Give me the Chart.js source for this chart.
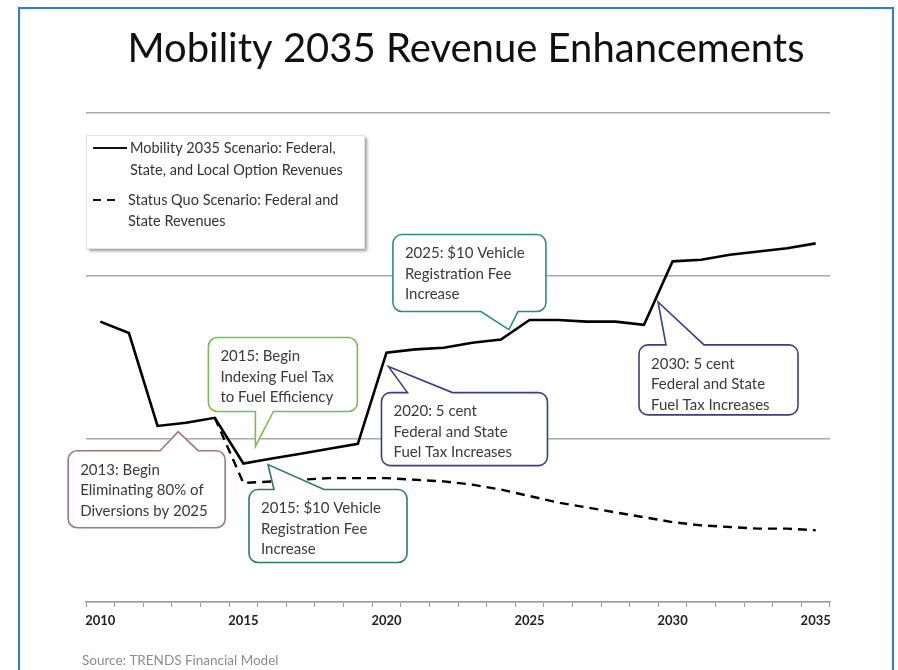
<!DOCTYPE html>
<html>
<head>
<meta charset="utf-8">
<script src="https://cdn.jsdelivr.net/npm/chart.js@4.4.1/dist/chart.umd.min.js"></script>
<style>
  html, body { margin: 0; padding: 0; background: #fff; }
  #wrap { position: relative; width: 898px; height: 670px; overflow: hidden; }
  #frame { position: absolute; left: 18px; top: 7px; width: 876px; height: 720px;
           border: 2px solid #2a7ed6; box-sizing: border-box; pointer-events: none; }
  canvas { position: absolute; left: 0; top: 0; }
</style>
</head>
<body>
<div id="wrap">
  <canvas id="chart" width="898" height="670"></canvas>
  <div id="frame"></div>
</div>
<script>
// Years on the horizontal axis
const years = ['2010','2011','2012','2013','2014','2015','2016','2017','2018','2019',
               '2020','2021','2022','2023','2024','2025','2026','2027','2028','2029',
               '2030','2031','2032','2033','2034','2035'];
// Only these years carry a printed label
const tickLabels = ['2010','2015','2020','2025','2030','2035'];

// Revenue, Mobility 2035 scenario (federal, state and local option)
const mobility2035 = [1.72, 1.65, 1.08, 1.10, 1.13, 0.85, 0.88, 0.91, 0.94, 0.97,
                      1.53, 1.55, 1.56, 1.59, 1.61, 1.73, 1.73, 1.72, 1.72, 1.70,
                      2.09, 2.10, 2.13, 2.15, 2.17, 2.20];
// Revenue, status quo scenario (federal and state)
const statusQuo = [null, null, null, null, 1.13, 0.73, 0.74, 0.75, 0.76, 0.76,
                   0.76, 0.75, 0.74, 0.72, 0.69, 0.65, 0.61, 0.58, 0.55, 0.52,
                   0.49, 0.47, 0.46, 0.45, 0.45, 0.44];

const seriesNames = [
  ['Mobility 2035 Scenario: Federal,', 'State, and Local Option Revenues'],
  ['Status Quo Scenario: Federal and', 'State Revenues']
];

const titleText = 'Mobility 2035 Revenue Enhancements';
const sourceText = 'Source: TRENDS Financial Model';

// Callout wording and the year on the Mobility 2035 line each one refers to
const calloutYears = ['2013', '2015', '2016', '2020', '2024', '2029'];
const calloutTexts = [
  ['2013: Begin', 'Eliminating 80% of', 'Diversions by 2025'],
  ['2015: Begin', 'Indexing Fuel Tax', 'to Fuel Efficiency'],
  ['2015: $10 Vehicle', 'Registration Fee', 'Increase'],
  ['2020: 5 cent', 'Federal and State', 'Fuel Tax Increases'],
  ['2025: $10 Vehicle', 'Registration Fee', 'Increase'],
  ['2030: 5 cent', 'Federal and State', 'Fuel Tax Increases']
];
// Callout geometry: tip offset from the point, box relative to tip, tail edge and span
const calloutLayout = [
  { tip: [-8, 9],   box: [-110, 19, 157, 77],  edge: 'top',    tail: [92, 130], color: '#a3777f' },
  { tip: [12, -17], box: [-47, -109, 149, 74], edge: 'bottom', tail: [47, 65],  color: '#7dbb55' },
  { tip: [-4, 6],   box: [-19, 25, 158, 73],   edge: 'top',    tail: [25, 75],  color: '#2e7a5c' },
  { tip: [2, 14],   box: [-7, 26, 166, 73],    edge: 'top',    tail: [26, 71],  color: '#3c3d82' },
  { tip: [8, -10],  box: [-116, -95, 153, 77], edge: 'bottom', tail: [88, 125], color: '#2e8b8a' },
  { tip: [14, -23], box: [-19, 43, 159, 70],   edge: 'top',    tail: [27, 65],  color: '#3c3d82' }
];

const FONT = 'Lato, "Open Sans", sans-serif';

function bubblePath(ctx, bx, by, bw, bh, r, edge, t0, t1, tx, ty) {
  ctx.beginPath();
  ctx.moveTo(bx + r, by);
  if (edge === 'top') { ctx.lineTo(bx + t0, by); ctx.lineTo(tx, ty); ctx.lineTo(bx + t1, by); }
  ctx.lineTo(bx + bw - r, by);
  ctx.arcTo(bx + bw, by, bx + bw, by + r, r);
  ctx.lineTo(bx + bw, by + bh - r);
  ctx.arcTo(bx + bw, by + bh, bx + bw - r, by + bh, r);
  if (edge === 'bottom') { ctx.lineTo(bx + t1, by + bh); ctx.lineTo(tx, ty); ctx.lineTo(bx + t0, by + bh); }
  ctx.lineTo(bx + r, by + bh);
  ctx.arcTo(bx, by + bh, bx, by + bh - r, r);
  ctx.lineTo(bx, by + r);
  ctx.arcTo(bx, by, bx + r, by, r);
  ctx.closePath();
}

// Title, legend box and source note
const decorPlugin = {
  id: 'decor',
  beforeDatasetsDraw(chart) {
    const ctx = chart.ctx;
    ctx.save();
    // legend panel with soft shadow
    ctx.shadowColor = 'rgba(0,0,0,0.4)';
    ctx.shadowBlur = 3;
    ctx.shadowOffsetX = 3;
    ctx.shadowOffsetY = 3;
    ctx.fillStyle = '#fff';
    ctx.fillRect(86, 135, 278, 113);
    ctx.shadowColor = 'transparent';
    ctx.strokeStyle = '#e4e4e4';
    ctx.lineWidth = 1;
    ctx.strokeRect(86.5, 135.5, 278, 113);

    ctx.strokeStyle = '#111';
    ctx.lineWidth = 2;
    ctx.beginPath(); ctx.moveTo(93, 148); ctx.lineTo(127, 148); ctx.stroke();
    ctx.setLineDash([8, 6]);
    ctx.beginPath(); ctx.moveTo(93, 200); ctx.lineTo(121, 200); ctx.stroke();
    ctx.setLineDash([]);

    ctx.fillStyle = '#333';
    ctx.font = '14.5px ' + FONT;
    ctx.textBaseline = 'middle';
    ctx.textAlign = 'left';
    ctx.fillText(seriesNames[0][0], 130, 148);
    ctx.fillText(seriesNames[0][1], 130, 170);
    ctx.fillText(seriesNames[1][0], 128, 200);
    ctx.fillText(seriesNames[1][1], 128, 221);
    ctx.restore();
  },
  afterDraw(chart) {
    const ctx = chart.ctx;
    ctx.save();
    ctx.fillStyle = '#111';
    ctx.font = '40px ' + FONT;
    ctx.textAlign = 'center';
    ctx.textBaseline = 'alphabetic';
    ctx.fillText(titleText, 466, 62);

    ctx.fillStyle = '#8c8c8c';
    ctx.font = '13.5px ' + FONT;
    ctx.textAlign = 'left';
    ctx.textBaseline = 'middle';
    ctx.fillText(sourceText, 82, 661);
    ctx.restore();
  }
};

// Speech-bubble notes pinned to the Mobility 2035 line
const calloutPlugin = {
  id: 'callouts',
  afterDatasetsDraw(chart) {
    const { ctx, scales: { x, y } } = chart;
    ctx.save();
    calloutYears.forEach((yr, k) => {
      const L = calloutLayout[k];
      const i = years.indexOf(yr);
      const px = x.getPixelForValue(i);
      const py = y.getPixelForValue(mobility2035[i]);
      const tx = px + L.tip[0], ty = py + L.tip[1];
      const bx = tx + L.box[0], by = ty + L.box[1], bw = L.box[2], bh = L.box[3];
      bubblePath(ctx, bx, by, bw, bh, 9, L.edge, L.tail[0], L.tail[1], tx, ty);
      ctx.fillStyle = '#fff';
      ctx.fill();
      ctx.strokeStyle = L.color;
      ctx.lineWidth = 1.6;
      ctx.stroke();
      ctx.fillStyle = '#3a3a3a';
      ctx.font = '15px ' + FONT;
      ctx.textAlign = 'left';
      ctx.textBaseline = 'middle';
      calloutTexts[k].forEach((t, j) => ctx.fillText(t, bx + 12, by + 19 + j * 20.5));
    });
    ctx.restore();
  }
};

new Chart(document.getElementById('chart'), {
  type: 'line',
  data: {
    labels: years,
    datasets: [
      { label: seriesNames[0].join(' '), data: mobility2035, borderColor: '#000',
        borderWidth: 2.6, pointRadius: 0, tension: 0, fill: false },
      { label: seriesNames[1].join(' '), data: statusQuo, borderColor: '#000',
        borderWidth: 2.4, borderDash: [9, 6], pointRadius: 0, tension: 0, fill: false }
    ]
  },
  options: {
    responsive: false,
    animation: false,
    layout: { padding: { left: 86, right: 68, top: 113, bottom: 38 } },
    plugins: { legend: { display: false }, title: { display: false }, tooltip: { enabled: false } },
    scales: {
      x: {
        type: 'category',
        offset: true,
        grid: { display: true, drawOnChartArea: false, drawTicks: true, tickLength: 5,
                offset: true, color: '#9a9a9a', lineWidth: 1 },
        border: { display: true, color: '#a0a0a0', width: 1.6 },
        ticks: {
          autoSkip: false, maxRotation: 0, minRotation: 0, padding: 6, color: '#222',
          font: { family: FONT, size: 13, weight: 'bold' },
          callback(v, i) { return tickLabels.includes(years[i]) ? years[i] : ''; }
        },
        afterFit(s) { s.height = 30; }
      },
      y: {
        min: 0, max: 3,
        ticks: { display: false, stepSize: 1 },
        grid: { color: '#a8a8a8', lineWidth: 1.6, drawTicks: false },
        border: { display: false },
        afterFit(s) { s.width = 0; }
      }
    }
  },
  plugins: [decorPlugin, calloutPlugin]
});
</script>
</body>
</html>
